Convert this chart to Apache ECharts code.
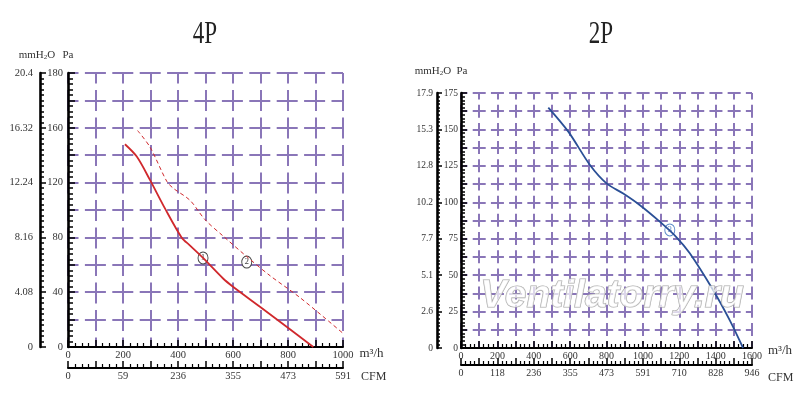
<!DOCTYPE html>
<html lang="en">
  <head>
    <meta charset="UTF-8" />
    <title>4P / 2P</title>
    <style>
      html, body { margin: 0; padding: 0; background: #fff; }
    </style>
  </head>
  <body>
    <div id="main" style="width: 800px; height: 402px"></div>
    <script src="https://cdn.jsdelivr.net/npm/echarts@6.0.0/dist/echarts.min.js"></script>
    <script>
      // 4P, curve 1 (solid) and curve 2 (dashed): flow m3/h, pressure Pa
      const flow4p1 = [207, 250, 298, 353, 413, 444, 491, 564, 600, 698, 795, 892];
      const pres4p1 = [148, 139, 122, 101, 80, 74, 65, 50, 44, 29.4, 14.8, 0];
      const flow4p2 = [253, 298, 359, 382, 444, 498, 564, 650, 735, 844, 1000];
      const pres4p2 = [158, 146, 121, 116, 107, 93, 81, 66, 52, 36, 10];

      // 2P, curve 3
      const flow2p = [480, 590, 709, 800, 892, 984, 1093, 1185, 1258, 1385, 1478, 1551];
      const pres2p = [165, 148.5, 125.6, 113, 106, 98, 86.7, 76, 65, 40, 19, 0];

      // circled curve numbers: [flow, pressure]
      const tag4p1 = [491, 65];
      const tag4p2 = [650, 62];
      const tag2p = [1148, 81];

      // tick labels as printed on the sheet
      const pa4pLabels = ["0", "40", "80", "120", "160", "180"];
      const mm4pLabels = ["0", "4.08", "8.16", "12.24", "16.32", "20.4"];
      const m3h4pLabels = ["0", "200", "400", "600", "800", "1000"];
      const cfm4pLabels = ["0", "59", "236", "355", "473", "591"];

      const pa2pLabels = ["0", "25", "50", "75", "100", "125", "150", "175"];
      const mm2pLabels = ["0", "2.6", "5.1", "7.7", "10.2", "12.8", "15.3", "17.9"];
      const m3h2pLabels = ["0", "200", "400", "600", "800", "1000", "1200", "1400", "1600"];
      const cfm2pLabels = ["0", "118", "236", "355", "473", "591", "710", "828", "946"];

      const FONT = '"Liberation Serif", "DejaVu Serif", serif';
      const GRID_COLOR = "#8a76b8";

      function zip(xs, ys) {
        return xs.map((x, i) => [x, ys[i]]);
      }

      // dashes centred on the grid crossings
      function gridLine(dash, gap, width) {
        return {
          show: true,
          lineStyle: {
            color: GRID_COLOR,
            width: width,
            type: [dash, gap],
            dashOffset: dash / 2,
          },
        };
      }

      function flowAxis(gridIndex, max, labels, offset, split, name, nameStyle) {
        return {
          type: "value",
          gridIndex: gridIndex,
          min: 0,
          max: max,
          interval: 100,
          position: "bottom",
          offset: offset,
          axisLine: { show: true, onZero: false, lineStyle: { color: "#000", width: 2 } },
          axisTick: { show: true, inside: true, length: 7, lineStyle: { color: "#000", width: 1.5 } },
          minorTick: { show: true, splitNumber: 4, length: 4, lineStyle: { color: "#000", width: 1.2 } },
          axisLabel: {
            formatter: (v) => (v % 200 === 0 ? labels[v / 200] : ""),
            fontFamily: FONT,
            fontSize: nameStyle.label,
            color: "#333",
            margin: 3,
          },
          splitLine: split || { show: false },
          name: name,
          nameLocation: "end",
          nameGap: nameStyle.gap,
          nameTextStyle: {
            fontFamily: FONT,
            fontSize: nameStyle.size,
            color: "#333",
            align: "left",
            verticalAlign: "top",
            padding: [nameStyle.down, 0, 0, 0],
          },
        };
      }

      function pressAxis(gridIndex, max, step, labelStep, minorSplit, labels, offset, split, name, look) {
        return {
          type: "value",
          gridIndex: gridIndex,
          min: 0,
          max: max,
          interval: step,
          position: "left",
          offset: offset,
          axisLine: { show: true, onZero: false, lineStyle: { color: "#000", width: 2.6 } },
          axisTick: { show: true, inside: true, length: look.tick, lineStyle: { color: "#000", width: 1.5 } },
          minorTick: { show: true, splitNumber: minorSplit, length: look.tick - 2, lineStyle: { color: "#000", width: 1.5 } },
          axisLabel: {
            formatter: (v) => (v % labelStep === 0 ? labels[v / labelStep] : ""),
            fontFamily: FONT,
            fontSize: look.label,
            color: "#333",
            margin: look.margin,
          },
          splitLine: split || { show: false },
          name: name,
          nameLocation: "end",
          nameGap: look.gap,
          nameTextStyle: {
            fontFamily: FONT,
            fontSize: 11,
            color: "#333",
            padding: look.pad,
            rich: {
              n: { fontFamily: FONT, fontSize: 11, color: "#333", lineHeight: 13, verticalAlign: "bottom" },
              s: { fontFamily: FONT, fontSize: 7, color: "#333", lineHeight: 7, verticalAlign: "bottom" },
            },
          },
        };
      }

      function tag(coord, text, color) {
        return {
          coord: coord,
          symbol: "circle",
          symbolSize: [10, 12],
          itemStyle: { color: "#fff", borderColor: color, borderWidth: 1 },
          label: { show: true, position: "inside", formatter: text, color: color, fontSize: 9, fontFamily: FONT },
        };
      }

      const MM_NAME = "{n|mmH}{s|2}{n|O}";

      var chartDom = document.getElementById("main");
      var myChart = echarts.init(chartDom, null, { renderer: "canvas" });

      var option = {
        backgroundColor: "#fff",
        animation: false,
        grid: [
          { left: 68, top: 73, width: 275, height: 274 },
          { left: 461, top: 93, width: 291, height: 255 },
        ],
        xAxis: [
          flowAxis(0, 1000, m3h4pLabels, 0, gridLine(21, 6.5, 2), "m³/h", { gap: 14, size: 13, down: 0, label: 10.5 }),
          flowAxis(0, 1000, cfm4pLabels, 21, null, "CFM", { gap: 18, size: 12, down: 3, label: 10.5 }),
          flowAxis(1, 1600, m3h2pLabels, 0, gridLine(13, 5.19, 2), "m³/h", { gap: 12, size: 13, down: -4, label: 10 }),
          flowAxis(1, 1600, cfm2pLabels, 17, null, "CFM", { gap: 16, size: 12, down: 7, label: 10 }),
        ],
        yAxis: [
          pressAxis(0, 200, 20, 40, 5, pa4pLabels, 0, gridLine(21, 6.4, 2), "Pa",
            { tick: 7, label: 10.5, margin: 5, gap: 12, pad: [0, 0, 0, 0] }),
          pressAxis(0, 200, 40, 40, 10, mm4pLabels, 28, null, MM_NAME,
            { tick: 6, label: 10.5, margin: 7, gap: 12, pad: [0, 6, 0, 0] }),
          pressAxis(1, 175, 12.5, 25, 5, pa2pLabels, 0, gridLine(13, 5.21, 2), "Pa",
            { tick: 6, label: 9.5, margin: 3, gap: 16, pad: [0, 0, 0, 2] }),
          pressAxis(1, 175, 25, 25, 10, mm2pLabels, 24, null, MM_NAME,
            { tick: 5, label: 9.5, margin: 4, gap: 16, pad: [0, 8, 0, 0] }),
        ],
        series: [
          {
            type: "line",
            xAxisIndex: 0,
            yAxisIndex: 0,
            data: zip(flow4p1, pres4p1),
            smooth: 0.3,
            showSymbol: false,
            lineStyle: { color: "#d0282c", width: 1.8 },
            markPoint: { data: [tag(tag4p1, "1", "#444")] },
            z: 5,
          },
          {
            type: "line",
            xAxisIndex: 0,
            yAxisIndex: 0,
            data: zip(flow4p2, pres4p2),
            smooth: 0.3,
            showSymbol: false,
            lineStyle: { color: "#d0282c", width: 1, type: [4, 3] },
            markPoint: { data: [tag(tag4p2, "2", "#444")] },
            z: 5,
          },
          {
            type: "line",
            xAxisIndex: 2,
            yAxisIndex: 2,
            data: zip(flow2p, pres2p),
            smooth: 0.3,
            showSymbol: false,
            lineStyle: { color: "#2a4f96", width: 1.8 },
            markPoint: { data: [tag(tag2p, "3", "#5a8ac8")] },
            z: 5,
          },
        ],
        graphic: [
          {
            type: "text",
            x: 205,
            y: 35,
            scaleX: 0.72,
            style: { text: "4P", font: '32px "Liberation Serif"', fill: "#222", align: "center", verticalAlign: "middle" },
          },
          {
            type: "text",
            x: 601,
            y: 35,
            scaleX: 0.72,
            style: { text: "2P", font: '32px "Liberation Serif"', fill: "#222", align: "center", verticalAlign: "middle" },
          },
          {
            type: "text",
            x: 612,
            y: 296,
            z: 10,
            style: {
              text: "Ventilatorry.ru",
              font: 'italic bold 39px "Liberation Sans"',
              fill: "rgba(255,255,255,0.7)",
              stroke: "#a8a8a8",
              lineWidth: 1.2,
              align: "center",
              verticalAlign: "middle",
            },
          },
        ],
      };

      myChart.setOption(option);
    </script>
  </body>
</html>
